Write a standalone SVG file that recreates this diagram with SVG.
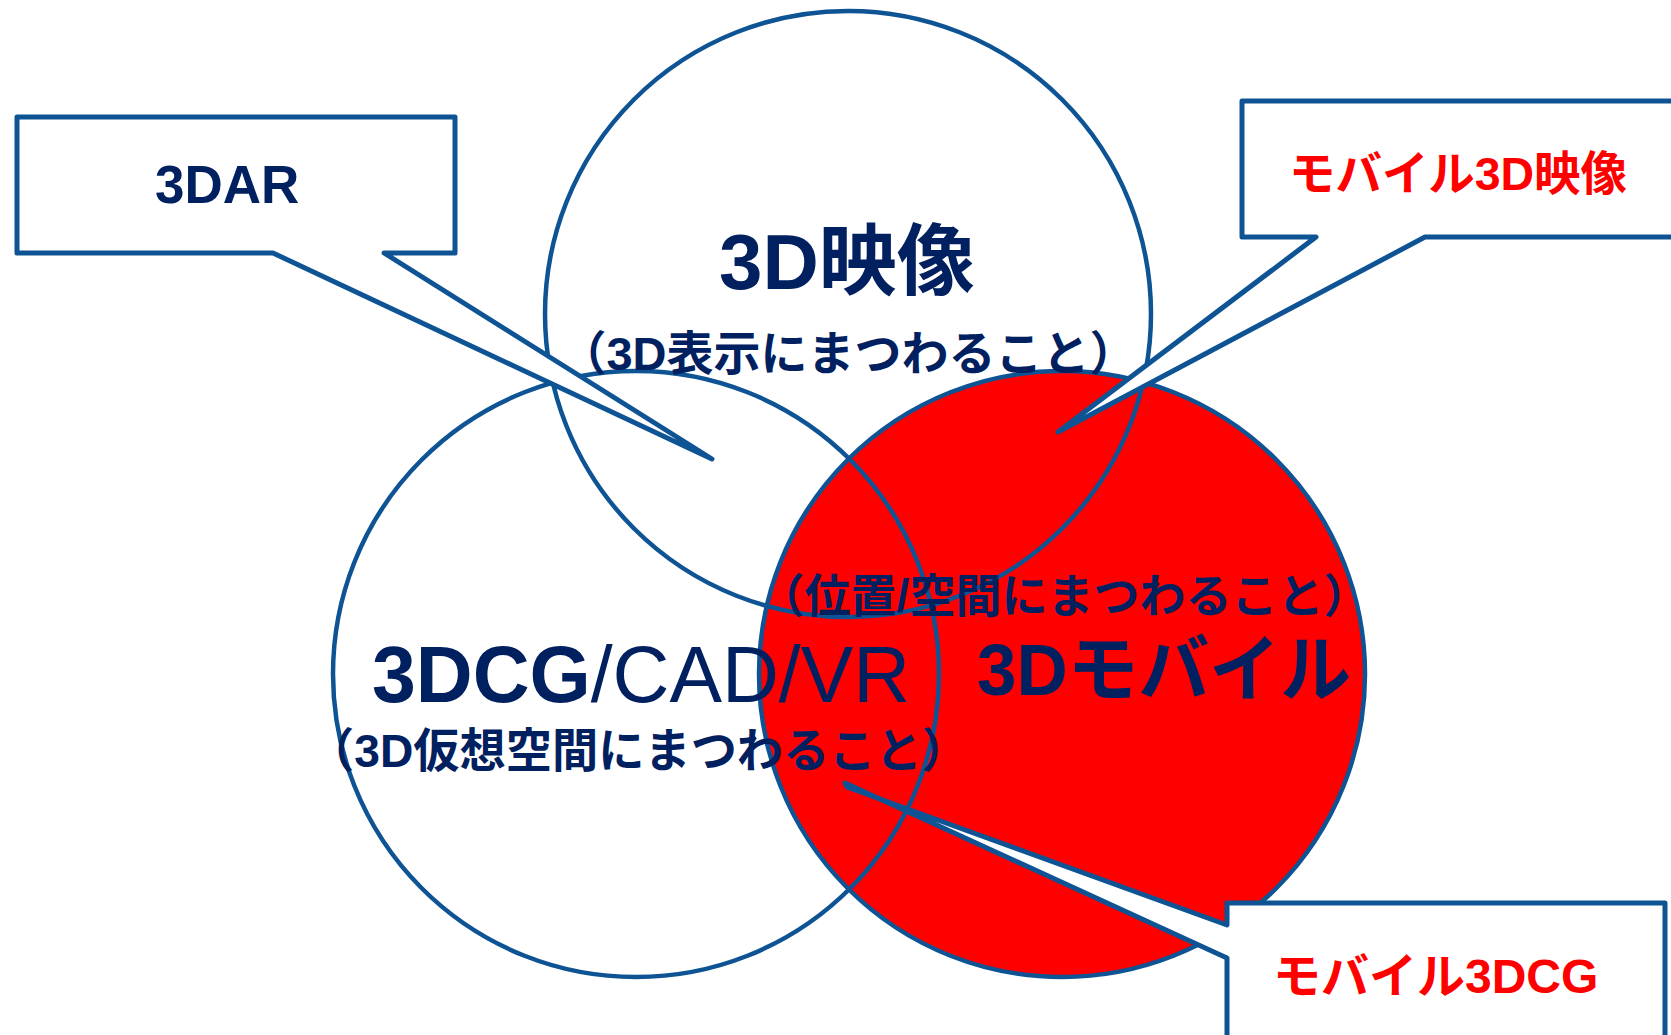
<svg xmlns="http://www.w3.org/2000/svg" width="1671" height="1035" viewBox="0 0 1671 1035">
  <style>
    .ring { fill: none; stroke: #0E5494; stroke-width: 4.5; }
    .red { fill: #FF0000; stroke: #0E5494; stroke-width: 4.5; }
    .callout { fill: #FFFFFF; stroke: #0E5494; stroke-width: 5; stroke-linejoin: round; }
    .t { font-family: "Liberation Sans", "Noto Sans CJK JP", sans-serif; font-weight: bold; fill: #002060; }
    .rt { font-family: "Liberation Sans", "Noto Sans CJK JP", sans-serif; font-weight: bold; fill: #FF0000; }
  </style>
  <rect x="0" y="0" width="1671" height="1035" fill="#FFFFFF"/>

  <g id="circle-mobile">
    <circle class="red" cx="1062" cy="674" r="303"/>
  </g>
  <g id="circle-3d-video">
    <circle class="ring" cx="848" cy="314" r="303"/>
  </g>
  <g id="circle-3dcg">
    <circle class="ring" cx="636" cy="674" r="303"/>
  </g>

  <g id="connectors"></g>

  <g id="callout-3dar">
    <path class="callout" d="M17,117 H455 V253 H384 L712,459 L273,253 H17 Z"/>
    <text class="t" x="155" y="203" font-size="53">3DAR</text>
  </g>
  <g id="callout-mobile-3d-video">
    <path class="callout" d="M1242,101 H1700 V237 H1425 L1058,432 L1316,237 H1242 Z"/>
    <text class="rt" x="1289" y="190" font-size="47" textLength="338" lengthAdjust="spacingAndGlyphs">モバイル3D映像</text>
  </g>
  <g id="callout-mobile-3dcg">
    <path class="callout" d="M1227,903 H1665 V1100 H1227 V958 L845,783 L847,787 L1227,925 Z"/>
    <text class="rt" x="1273" y="993" font-size="48">モバイル3DCG</text>
  </g>

  <g id="label-3d-video">
    <text class="t" x="719" y="289" font-size="78">3D映像</text>
    <text class="t" x="848" y="370" font-size="47" text-anchor="middle">（3D表示にまつわること）</text>
  </g>
  <g id="label-3dcg">
    <text class="t" x="372" y="702" font-size="80" textLength="538" lengthAdjust="spacingAndGlyphs">3DCG<tspan font-weight="normal">/CAD/VR</tspan></text>
    <text class="t" x="638" y="767" font-size="47" text-anchor="middle" textLength="660" lengthAdjust="spacingAndGlyphs">（3D仮想空間にまつわること）</text>
  </g>
  <g id="label-mobile">
    <text class="t" x="1064" y="612" font-size="46" text-anchor="middle">（位置/空間にまつわること）</text>
    <text class="t" x="977" y="695" font-size="73" textLength="374" lengthAdjust="spacingAndGlyphs">3Dモバイル</text>
  </g>
</svg>
